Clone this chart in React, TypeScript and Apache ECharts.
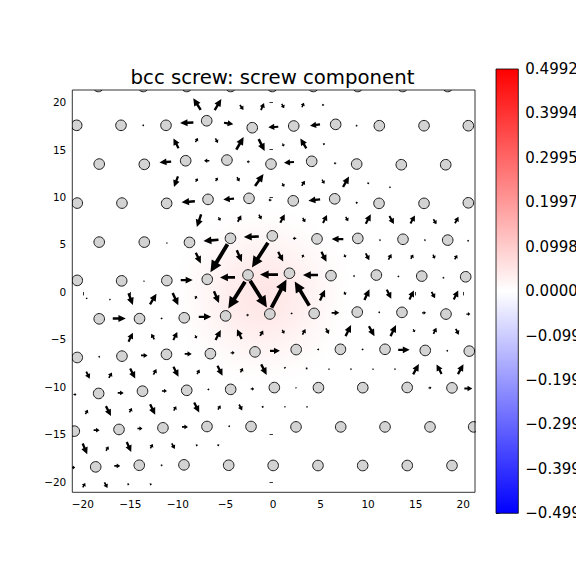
import React, { useEffect, useRef } from "react";
import * as echarts from "echarts";

const TITLE = "bcc screw: screw component";
const xTicks = [-20, -15, -10, -5, 0, 5, 10, 15, 20];
const yTicks = [-20, -15, -10, -5, 0, 5, 10, 15, 20];
const xRange = [-21.1, 21.24];
const yRange = [-21.1, 21.27];
const cbRange = [-0.4992, 0.4992];
const cbTicks = [-0.4992, -0.3994, -0.2995, -0.1997, -0.0998, 0, 0.0998, 0.1997, 0.2995, 0.3994, 0.4992];

// atom columns, one array per row (top to bottom)
const rowA = [[-18.37, 21.64], [-13.64, 21.64], [-9.07, 21.64], [-4.45, 21.64], [-0.07, 21.64], [4.24, 21.64], [8.91, 21.64], [13.64, 21.64], [18.37, 21.64]];
const rowB = [[-20.64, 17.55], [-15.98, 17.55], [-11.25, 17.55], [-6.97, 18.03], [-2.18, 17.3], [2.18, 17.48], [6.59, 17.65], [11.18, 17.51], [15.88, 17.51], [20.54, 17.51]];
const rowC = [[-18.27, 13.47], [-13.53, 13.44], [-9.18, 13.82], [-4.84, 13.89], [-0.21, 13.47], [4.07, 13.76], [8.8, 13.47], [13.49, 13.4], [18.16, 13.4]];
const rowD = [[-20.58, 9.36], [-15.88, 9.36], [-11.18, 9.33], [-6.83, 9.75], [-2.52, 9.86], [2.13, 9.6], [6.49, 9.81], [11.15, 9.33], [15.88, 9.33], [20.54, 9.39]];
const rowE = [[-18.27, 5.25], [-13.53, 5.25], [-8.78, 5.22], [-4.47, 5.65], [-0.07, 5.91], [4.63, 5.59], [8.92, 5.64], [13.67, 5.55], [18.37, 5.46]];
const rowF = [[-20.58, 1.22], [-15.91, 1.17], [-11.16, 1.2], [-6.91, 1.33], [-2.63, 1.79], [1.73, 1.97], [6.1, 1.72], [10.87, 1.78], [15.64, 1.67], [20.26, 1.6]];
const rowG = [[-18.27, -2.83], [-14.03, -2.81], [-9.33, -2.72], [-4.98, -2.52], [-0.33, -2.32], [4.33, -2.26], [8.86, -2.12], [13.56, -2.15], [18.19, -2.33]];
const rowH = [[-20.58, -6.9], [-15.88, -6.76], [-11.2, -6.57], [-6.58, -6.5], [-1.89, -6.31], [2.44, -6.07], [7.09, -6.04], [11.78, -6.04], [16.01, -6.16], [20.64, -6.23]];
const rowI = [[-18.33, -10.69], [-13.72, -10.45], [-9.07, -10.36], [-4.45, -10.26], [0.14, -10.07], [4.78, -10.08], [9.44, -10.08], [14.11, -10.06], [18.82, -10.1]];
const rowJ = [[-20.89, -14.66], [-16.19, -14.48], [-11.57, -14.31], [-6.94, -14.17], [-2.31, -14.17], [2.42, -14.21], [7.12, -14.21], [11.78, -14.21], [16.51, -14.21], [21.1, -14.21]];
const rowK = [[-18.64, -18.42], [-14.06, -18.25], [-9.36, -18.21], [-4.66, -18.25], [0.02, -18.27], [4.73, -18.28], [9.43, -18.28], [14.12, -18.28], [18.82, -18.28]];

// differential displacement arrows: [xMid, yMid, dx, dy]
const arrowsTop = [
  [-7.99, 19.79, -0.78, 1.23], [-5.78, 19.74, 0.7, 1.16], [-3.29, 19.43, 0.37, -0.53], [-1.1, 19.53, 0.32, 0.74],
  [1.05, 19.58, 0.26, -0.47], [3.15, 19.69, 0.21, 0.47], [5.26, 19.69, 0.11, -0.21],
  [-9.07, 17.82, -1.4, -0.06], [-4.66, 17.74, 0.98, -0.17], [0.03, 17.37, -1.05, -0.06], [4.42, 17.58, -1.05, -0.15],
  [-13.64, 17.55, 0.21, 0], [8.8, 17.51, 0.21, 0],
  [-10.2, 15.65, -0.53, 1.05], [-8.02, 16.0, 0.26, 0.42], [-5.92, 15.93, 0.26, -0.47], [-3.47, 15.65, 0.77, 1.34],
  [-1.19, 15.47, 0.63, -1.26], [1.08, 15.47, 0.16, -0.32], [3.19, 15.65, -0.63, 1.05], [5.36, 15.58, 0.11, 0.21],
  [-11.32, 13.68, -1.23, -0.11], [-6.97, 13.82, -0.56, 0], [-2.6, 13.71, -0.32, 0], [1.68, 13.65, -1.05, -0.07], [6.52, 13.55, -0.26, 0],
];
const arrowsUpper = [
  [-10.2, 11.61, -0.42, -1.12], [-8.02, 11.79, 0.21, 0.37], [-5.92, 11.86, 0.21, 0.37], [-3.65, 11.86, 0.26, -0.47],
  [-1.44, 11.79, 0.89, 1.26], [1.08, 11.26, 0.21, -0.37], [3.19, 11.44, 0.32, 0.53], [5.29, 11.61, 0.26, -0.42],
  [7.68, 11.61, 0.63, 1.11], [10.02, 11.44, 0.11, -0.21], [12.3, 11.02, 0.11, 0.16],
  [-8.91, 9.5, -1.4, -0.11], [-4.66, 9.78, -1.13, -0.11], [-0.32, 9.68, -0.32, 0], [4.34, 9.68, -1.23, -0.15], [8.8, 9.39, -0.26, 0],
  [-7.78, 7.5, -0.45, -1.34], [-5.63, 7.68, 0.21, -0.37], [-3.52, 7.73, 0.37, 0.68], [-1.34, 7.89, 0.26, -0.53],
  [1.0, 7.73, 0.47, 0.89], [3.26, 7.57, 0.26, -0.47], [5.47, 7.68, 0.42, 0.84], [7.78, 7.68, 0.26, -0.47],
  [10.02, 7.68, 0.53, 1.0], [12.48, 7.57, 0.47, -0.84], [14.69, 7.64, 0.47, 0.84], [17.03, 7.39, 0.32, -0.53], [19.32, 7.57, 0.37, 0.68],
  [-6.52, 5.43, -1.58, -0.14], [-2.28, 5.81, -1.58, -0.07], [2.26, 5.64, -0.37, 0], [6.78, 5.57, -1.23, 0],
  [11.25, 5.46, -0.21, 0], [15.98, 5.46, -0.21, 0], [20.51, 5.39, -0.21, 0], [-11.15, 5.15, 0.16, 0],
];
const arrowsCore = [
  [-7.85, 3.57, 0.53, -1.13], [-5.68, 3.54, -1.79, -2.95], [-3.54, 3.78, 0.53, -1.23], [-1.37, 3.88, -1.68, -2.63],
  [0.81, 3.72, 0.53, -1.0], [3.15, 3.78, 0.16, 0.32], [5.36, 3.7, 0.53, -1.05], [7.57, 3.78, 0.16, -0.32],
  [9.94, 3.7, 0.37, -0.74], [12.3, 3.7, 0.32, 0.58], [14.62, 3.72, 0.26, 0.47], [16.93, 3.72, 0.21, -0.42], [19.24, 3.67, 0.26, 0.47],
  [-9.07, 1.25, 1.26, 0], [-4.78, 1.53, -1.58, 0], [-0.42, 1.83, -1.89, 0], [3.94, 1.78, -1.58, 0],
  [8.52, 1.67, -0.21, 0], [13.18, 1.64, -0.21, 0], [17.91, 1.49, -0.21, 0], [-13.56, 1.14, 0.16, 0],
  [-19.59, -0.68, 0.08, -0.16], [-17.14, -0.79, 0.08, 0.16], [-14.96, -0.75, 0.46, -1.23], [-12.59, -0.75, 0.68, 1.11],
  [-10.25, -0.75, 0.59, -1.3], [-8.1, -0.57, 0.16, 0.32], [-5.94, -0.54, 0.53, -1.23],
  [-3.82, -0.33, -1.76, -2.8], [-1.52, -0.23, 1.76, -2.8], [0.63, -0.17, 1.58, 2.98], [3.05, -0.17, -1.53, 2.53],
  [5.21, -0.33, 0.53, 1.13], [7.57, -0.15, 0.16, -0.32], [9.88, -0.28, 0.53, 1.13], [12.2, -0.23, 0.47, -0.95],
  [14.58, -0.33, 0.47, 0.95], [16.86, -0.33, 0.37, -0.68], [19.24, -0.33, 0.47, 0.95],
  [-16.16, -2.79, 1.37, 0], [-11.7, -2.79, 0.21, 0], [-7.15, -2.62, 1.31, 0], [-2.66, -2.44, 0.26, 0],
  [1.97, -2.26, 0.21, 0], [6.57, -2.2, 0.81, 0], [11.17, -2.14, 0.21, 0], [15.88, -2.2, 0.42, 0], [20.54, -2.33, 0.42, 0],
];
const arrowsLower = [
  [-14.96, -4.76, 0.46, 0.95], [-12.64, -4.7, -0.32, 0.58], [-10.27, -4.65, 0.42, 0.84], [-8.1, -4.73, 0.16, -0.32],
  [-5.76, -4.53, 0.56, 1.05], [-3.54, -4.44, -0.49, 1.05], [-1.19, -4.34, 0.32, 0.58], [1.08, -4.2, 0.21, -0.42],
  [3.26, -4.2, 0.32, 0.58], [5.73, -4.13, 0.32, -0.58], [7.92, -4.07, 0.58, 1.16], [10.38, -4.13, 0.58, -1.05],
  [12.65, -4.07, 0.58, 1.16], [14.83, -4.09, 0.16, -0.32], [17.03, -4.09, 0.32, 0.63], [19.38, -4.2, 0.32, -0.63],
  [-18.27, -6.83, 0.21, 0], [-13.53, -6.69, 0.69, 0], [-8.91, -6.53, 0.74, 0], [-4.24, -6.41, 0.42, 0],
  [0.21, -6.2, 1.05, 0], [4.76, -6.05, 0.21, 0], [9.43, -6.05, 0.21, 0], [13.77, -6.09, 1.21, 0], [18.33, -6.2, 0.21, 0],
  [-19.45, -8.76, 0.37, -0.74], [-17.09, -8.76, 0.32, 0.58], [-14.75, -8.58, 0.53, -1.05], [-12.41, -8.41, 0.32, 0.58],
  [-10.2, -8.41, 0.53, -1.05], [-7.85, -8.41, 0.26, 0.47], [-5.57, -8.29, 0.53, -1.05], [-3.29, -8.24, 0.26, 0.47],
  [-0.95, -8.18, 0.58, -1.11], [1.26, -7.97, 0.11, 0.21], [3.54, -8.06, 0.11, -0.21], [5.89, -8.13, 0.08, 0.16],
  [8.2, -8.13, 0.08, -0.16], [10.52, -8.13, 0.08, 0.16], [12.83, -8.13, 0.08, -0.16],
  [15.04, -8.13, 0.6, 1.09], [17.46, -8.13, -0.53, 1.0], [19.74, -8.13, 0.58, 1.05],
  [-20.82, -10.8, 0.32, 0], [-16.01, -10.63, 0.63, 0], [-11.41, -10.42, 0.53, 0], [-6.78, -10.27, 0.21, 0],
  [-2.16, -10.21, 0.37, 0], [2.42, -10.1, 0.16, 0], [16.51, -10.1, 0.32, 0], [20.54, -10.16, 0.84, 0],
];
const arrowsBottom = [
  [-19.59, -12.63, 0.26, 0.47], [-17.3, -12.55, 0.53, -1.05], [-14.96, -12.45, 0.26, 0.47], [-12.65, -12.38, 0.53, -1.11],
  [-10.3, -12.27, 0.26, 0.47], [-8.02, -12.17, 0.53, -1.05], [-5.65, -12.17, 0.26, 0.47], [-3.4, -12.17, 0.32, -0.63],
  [-1.08, -12.1, 0.11, 0.21], [1.26, -12.1, 0.08, -0.16], [3.58, -12.1, 0.08, 0.16],
  [-18.54, -14.56, 0.63, 0], [-13.99, -14.38, 0.53, 0], [-9.25, -14.21, 0.63, 0], [-4.6, -14.14, 0.21, 0],
  [-19.77, -16.53, 0.48, -1.13], [-17.42, -16.49, 0.26, 0.47], [-15.14, -16.32, 0.47, -1.05], [-12.76, -16.24, 0.26, 0.47],
  [-10.48, -16.24, 0.32, -0.58], [-8.02, -16.14, 0.11, 0.21], [-5.75, -16.14, 0.11, -0.21],
  [-21.0, -18.49, 0.42, 0], [-16.37, -18.32, 0.63, 0], [-11.7, -18.25, 0.21, 0],
  [-19.87, -20.35, 0.26, 0.47], [-17.56, -20.35, 0.32, -0.58], [-15.22, -20.25, 0.11, 0.21], [-12.86, -20.25, 0.11, 0.21],
];

// background field: one smooth peak [x, y, value, radius]
const fieldPeaks = [[-1.05, -0.44, 0.05, 9.5]];

const MINUS = "\u2212";
const fmtAxis = (v: number) => (v < 0 ? MINUS + Math.abs(v) : String(v));
const fmtBar = (v: number) => {
  const s = Math.abs(v).toFixed(4);
  return v < -1e-9 ? MINUS + s : s;
};

function bwr(v: number) {
  let t = (v - cbRange[0]) / (cbRange[1] - cbRange[0]);
  t = Math.max(0, Math.min(1, t));
  let r: number, g: number, b: number;
  if (t < 0.5) {
    r = g = 2 * t;
    b = 1;
  } else {
    r = 1;
    g = b = 2 * (1 - t);
  }
  return `rgb(${Math.round(r * 255)},${Math.round(g * 255)},${Math.round(b * 255)})`;
}

const FONT = "DejaVu Sans";

export default function App() {
  const ref = useRef<HTMLDivElement>(null);
  useEffect(() => {
    const chart = echarts.init(ref.current!, null, { renderer: "svg" });
    const atoms = [...rowA, ...rowB, ...rowC, ...rowD, ...rowE, ...rowF, ...rowG, ...rowH, ...rowI, ...rowJ, ...rowK];
    const arrows = [...arrowsTop, ...arrowsUpper, ...arrowsCore, ...arrowsLower, ...arrowsBottom];
    const profile = [[0, 1], [0.2, 0.9], [0.4, 0.68], [0.6, 0.4], [0.8, 0.15], [1, 0]];

    const option: any = {
      animation: false,
      backgroundColor: "#fff",
      textStyle: { fontFamily: FONT },
      graphic: [
        {
          type: "text",
          x: 272.5,
          y: 77,
          style: {
            text: TITLE,
            font: `19.7px "${FONT}"`,
            fill: "#000",
            textAlign: "center",
            textVerticalAlign: "middle",
          },
        },
      ],
      grid: [
        { left: 72.3, top: 90, width: 402.7, height: 402.3, show: false, containLabel: false, outerBoundsMode: "none" },
        { left: 496, top: 69, width: 22.3, height: 444.3, show: false, containLabel: false, outerBoundsMode: "none" },
      ],
      xAxis: [
        {
          gridIndex: 0,
          type: "value",
          min: xRange[0],
          max: xRange[1],
          axisLine: { show: false },
          splitLine: { show: false },
          axisTick: { show: true, length: 3.5, customValues: xTicks, lineStyle: { color: "#000", width: 0.8 } },
          axisLabel: { customValues: xTicks, margin: 6, fontSize: 10.5, color: "#000", fontFamily: FONT, formatter: fmtAxis },
        },
        { gridIndex: 1, type: "value", min: 0, max: 1, show: false },
      ],
      yAxis: [
        {
          gridIndex: 0,
          type: "value",
          min: yRange[0],
          max: yRange[1],
          axisLine: { show: false },
          splitLine: { show: false },
          axisTick: { show: true, length: 3.5, customValues: yTicks, lineStyle: { color: "#000", width: 0.8 } },
          axisLabel: { customValues: yTicks, margin: 6, fontSize: 10.5, color: "#000", fontFamily: FONT, formatter: fmtAxis },
        },
        {
          gridIndex: 1,
          type: "value",
          position: "right",
          min: cbRange[0],
          max: cbRange[1],
          axisLine: { show: false },
          splitLine: { show: false },
          axisTick: { show: true, length: 3.5, customValues: cbTicks, lineStyle: { color: "#000", width: 0.8 } },
          axisLabel: { customValues: cbTicks, margin: 7, fontSize: 15, color: "#000", fontFamily: FONT, formatter: fmtBar },
        },
      ],
      series: [
        {
          type: "custom",
          xAxisIndex: 0,
          yAxisIndex: 0,
          z: 1,
          clip: true,
          silent: true,
          data: fieldPeaks,
          encode: { x: 0, y: 1 },
          renderItem: (_p: any, api: any) => {
            const c = api.coord([api.value(0), api.value(1)]);
            const r = api.size([api.value(3), 0])[0];
            const peak = api.value(2);
            return {
              type: "circle",
              shape: { cx: c[0], cy: c[1], r },
              style: {
                fill: new echarts.graphic.RadialGradient(
                  0.5,
                  0.5,
                  0.5,
                  profile.map(([o, f]) => ({ offset: o, color: bwr(peak * f) }))
                ),
              },
            };
          },
        },
        {
          type: "custom",
          xAxisIndex: 0,
          yAxisIndex: 0,
          z: 2,
          clip: true,
          silent: true,
          data: arrows,
          encode: { x: 0, y: 1 },
          renderItem: (_p: any, api: any) => {
            const mx = api.value(0), my = api.value(1), dx = api.value(2), dy = api.value(3);
            const a = api.coord([mx - dx / 2, my - dy / 2]);
            const b = api.coord([mx + dx / 2, my + dy / 2]);
            const vx = b[0] - a[0], vy = b[1] - a[1];
            const L = Math.hypot(vx, vy) || 0.01;
            const ux = vx / L, uy = vy / L, nx = -uy, ny = ux;
            const sw = Math.min(4.2, 0.68 * Math.sqrt(L));
            const hw = 2.9 * sw;
            const hl = Math.min(0.6 * L, 3.0 * sw);
            const bx = b[0] - ux * hl, by = b[1] - uy * hl;
            const pts = [
              [a[0] + (nx * sw) / 2, a[1] + (ny * sw) / 2],
              [bx + (nx * sw) / 2, by + (ny * sw) / 2],
              [bx + (nx * hw) / 2, by + (ny * hw) / 2],
              [b[0], b[1]],
              [bx - (nx * hw) / 2, by - (ny * hw) / 2],
              [bx - (nx * sw) / 2, by - (ny * sw) / 2],
              [a[0] - (nx * sw) / 2, a[1] - (ny * sw) / 2],
            ];
            return { type: "polygon", shape: { points: pts }, style: { fill: "#000" } };
          },
        },
        {
          type: "custom",
          xAxisIndex: 0,
          yAxisIndex: 0,
          z: 3,
          clip: true,
          silent: true,
          data: atoms,
          encode: { x: 0, y: 1 },
          renderItem: (_p: any, api: any) => {
            const c = api.coord([api.value(0), api.value(1)]);
            return {
              type: "circle",
              shape: { cx: c[0], cy: c[1], r: 5.3 },
              style: { fill: "#d3d3d3", stroke: "#1a1a1a", lineWidth: 1 },
            };
          },
        },
        {
          type: "custom",
          xAxisIndex: 0,
          yAxisIndex: 0,
          z: 4,
          clip: false,
          silent: true,
          data: [[xRange[0], yRange[0], xRange[1], yRange[1]]],
          encode: { x: [0, 2], y: [1, 3] },
          renderItem: (_p: any, api: any) => {
            const p0 = api.coord([api.value(0), api.value(3)]);
            const p1 = api.coord([api.value(2), api.value(1)]);
            return {
              type: "rect",
              shape: { x: p0[0], y: p0[1], width: p1[0] - p0[0], height: p1[1] - p0[1] },
              style: { fill: "none", stroke: "#000", lineWidth: 0.8 },
            };
          },
        },
        {
          type: "custom",
          xAxisIndex: 1,
          yAxisIndex: 1,
          z: 4,
          clip: false,
          silent: true,
          data: [[0, cbRange[0], 1, cbRange[1]]],
          encode: { x: [0, 2], y: [1, 3] },
          renderItem: (_p: any, api: any) => {
            const p0 = api.coord([api.value(0), api.value(3)]);
            const p1 = api.coord([api.value(2), api.value(1)]);
            return {
              type: "rect",
              shape: { x: p0[0], y: p0[1], width: p1[0] - p0[0], height: p1[1] - p0[1] },
              style: {
                fill: new echarts.graphic.LinearGradient(0, 0, 0, 1, [
                  { offset: 0, color: bwr(cbRange[1]) },
                  { offset: 0.5, color: bwr(0) },
                  { offset: 1, color: bwr(cbRange[0]) },
                ]),
                stroke: "#000",
                lineWidth: 0.8,
              },
            };
          },
        },
      ],
    };
    chart.setOption(option);
    return () => chart.dispose();
  }, []);
  return <div ref={ref} style={{ position: "absolute", left: 0, top: 0, width: 576, height: 576 }} />;
}
